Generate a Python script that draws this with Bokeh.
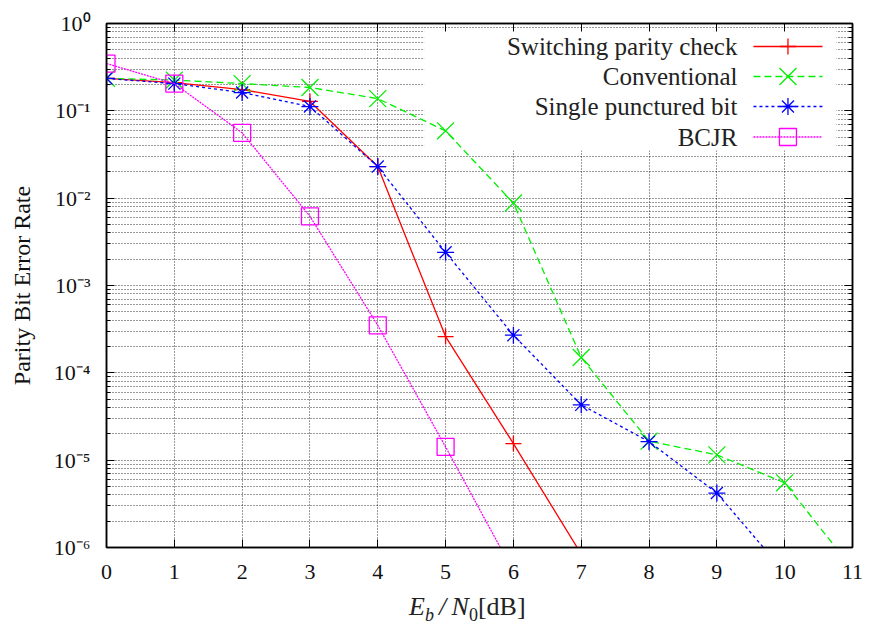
from bokeh.plotting import figure
from bokeh.layouts import column
from bokeh.models import (LinearAxis, LogAxis, FixedTicker, BoxAnnotation, Label,
                          CustomJSTickFormatter, Div)
from bokeh.embed import file_html
from bokeh.resources import INLINE

# ---------------- data ----------------
x_ticks = [0, 1, 2, 3, 4, 5, 6, 7, 8, 9, 10, 11]
y_decades = [1e-6, 1e-5, 1e-4, 1e-3, 1e-2, 1e-1, 1.0]

switching_x = [0, 1, 2, 3, 4, 5, 6, 7]
switching_y = [0.235, 0.21, 0.175, 0.128, 0.023, 2.6e-4, 1.55e-5, 8.4e-7]

conventional_x = [0, 1, 2, 3, 4, 5, 6, 7, 8, 9, 10, 11]
conventional_y = [0.235, 0.225, 0.205, 0.185, 0.138, 0.059, 8.8e-3, 1.5e-4,
                  1.65e-5, 1.15e-5, 5.5e-6, 5.7e-7]

punctured_x = [0, 1, 2, 3, 4, 5, 6, 7, 8, 9, 10]
punctured_y = [0.235, 0.205, 0.162, 0.112, 0.023, 2.4e-3, 2.7e-4, 4.3e-5,
               1.63e-5, 4.2e-6, 5.2e-7]

bcjr_x = [0, 1, 2, 3, 4, 5, 6]
bcjr_y = [0.348, 0.205, 0.056, 6.2e-3, 3.5e-4, 1.42e-5, 5.3e-7]

series_names = ["Switching parity check", "Conventional",
                "Single punctured bit", "BCJR"]

FONT = "Liberation Serif"

# ---------------- layout constants (pixels) ----------------
W, H = 870, 628
XLABEL_H = 36                                  # strip below the figure for the x label
HF = H - XLABEL_H                              # figure height
FL, FR, FT, FB = 106.5, 852, 23, 547          # frame edges
X0, X1 = 0.0, 11.0
LOG0, LOG1 = -6.0, 0.0


def px_x(px):
    return X0 + (px - FL) / (FR - FL) * (X1 - X0)


def px_y(py):
    return 10 ** (LOG1 - (py - FT) / (FB - FT) * (LOG1 - LOG0))


# ---------------- figure ----------------
p = figure(width=W, height=HF, x_range=(X0, X1), y_range=(10 ** LOG0, 10 ** LOG1),
           y_axis_type="log", output_backend="svg", toolbar_location=None,
           min_border_left=106, min_border_right=W - FR, min_border_top=FT,
           min_border_bottom=HF - FB)
p.background_fill_color = "white"
p.border_fill_color = "white"
p.outline_line_color = "black"
p.outline_line_width = 1.5

minor_y = [m * d for d in y_decades[:-1] for m in range(2, 10)]
y_ticker = FixedTicker(ticks=y_decades, minor_ticks=minor_y)
x_ticker = FixedTicker(ticks=x_ticks, minor_ticks=[])

sup_js = """
const sup = {'0':'\u2070','1':'\u00b9','2':'\u00b2','3':'\u00b3','4':'\u2074',
             '5':'\u2075','6':'\u2076','7':'\u2077','8':'\u2078','9':'\u2079','-':'\u207b'};
const e = Math.round(Math.log10(tick));
return '10' + String(e).split('').map(c => sup[c]).join('');
"""

xa = p.xaxis[0]
xa.ticker = x_ticker
ya = p.yaxis[0]
ya.ticker = y_ticker
ya.formatter = CustomJSTickFormatter(code=sup_js)

for ax in (xa, ya):
    ax.major_label_text_font = FONT
    ax.major_label_text_font_size = "22px"
    ax.major_label_text_color = "#111111"
    ax.major_tick_in = 8
    ax.major_tick_out = 0
    ax.minor_tick_in = 4
    ax.minor_tick_out = 0
    ax.axis_line_color = "black"
    ax.axis_line_width = 1.5
    ax.major_tick_line_color = "black"
    ax.minor_tick_line_color = "black"
xa.major_label_standoff = 17
ya.major_label_standoff = 16

ya.axis_label = "Parity Bit Error Rate"
ya.axis_label_text_font = FONT
ya.axis_label_text_font_size = "24px"
ya.axis_label_text_font_style = "normal"
ya.axis_label_text_color = "#111111"
ya.axis_label_standoff = 16

# mirrored axes (ticks only, no labels)
blank = CustomJSTickFormatter(code="return '';")
top = LinearAxis(ticker=x_ticker, formatter=blank,
                 major_label_standoff=0, major_tick_in=8, major_tick_out=0,
                 minor_tick_in=0, minor_tick_out=0, axis_line_width=1.5)
p.add_layout(top, "above")
right = LogAxis(ticker=y_ticker, formatter=blank,
                major_label_standoff=0, major_tick_in=8, major_tick_out=0,
                minor_tick_in=4, minor_tick_out=0, axis_line_width=1.5)
p.add_layout(right, "right")

# grid
p.xgrid.ticker = x_ticker
p.ygrid.ticker = y_ticker
for g in (p.xgrid[0], p.ygrid[0]):
    g.grid_line_color = "black"
    g.grid_line_alpha = 0.8
    g.grid_line_dash = "1 2"
    g.grid_line_width = 1
p.ygrid[0].minor_grid_line_color = "black"
p.ygrid[0].minor_grid_line_alpha = 0.8
p.ygrid[0].minor_grid_line_dash = "1 2"

# ---------------- key (gnuplot style: text right-aligned, sample on right) ----------
KEY_L, KEY_R, KEY_T, KEY_B = 424, 836, 29, 150
KEY_TEXT_R = 737
KEY_S0, KEY_S1 = 753, 822
KEY_ROWS = [46, 76, 106, 136.5]

key_bg = BoxAnnotation(left=px_x(KEY_L), right=px_x(KEY_R),
                       top=px_y(KEY_T), bottom=px_y(KEY_B),
                       fill_color="white", fill_alpha=1.0, line_color=None,
                       level="underlay")
p.add_layout(key_bg)

# ---------------- series ----------------
styles = [
    dict(color="#ff0000", dash="solid", marker="cross", size=16),
    dict(color="#00f000", dash="7 4", marker="x", size=24),
    dict(color="#0000ff", dash="3 3", marker="asterisk", size=17),
    dict(color="#ff00ff", dash="2 1", marker="square", size=17),
]
data = [(switching_x, switching_y), (conventional_x, conventional_y),
        (punctured_x, punctured_y), (bcjr_x, bcjr_y)]

for name, (xs, ys), st, row in zip(series_names, data, styles, KEY_ROWS):
    p.line(xs, ys, line_color=st["color"], line_width=1.3, line_dash=st["dash"])
    p.scatter(xs, ys, marker=st["marker"], size=st["size"],
              line_color=st["color"], fill_color=None, line_width=1.3)
    # key entry
    ky = px_y(row)
    p.line([px_x(KEY_S0), px_x(KEY_S1)], [ky, ky], line_color=st["color"],
           line_width=1.3, line_dash=st["dash"])
    p.scatter([px_x((KEY_S0 + KEY_S1) / 2)], [ky], marker=st["marker"],
              size=st["size"], line_color=st["color"], fill_color=None,
              line_width=1.3)
    p.add_layout(Label(x=px_x(KEY_TEXT_R), y=ky, text=name, text_align="right",
                       text_baseline="middle", text_font=FONT,
                       text_font_size="25px", text_color="#222222"))

# ---------------- x axis label  E_b / N_0 [dB] (HTML text strip) ----------------
xlabel = Div(
    text=("<span style=\"font-family:'Liberation Serif',serif;font-size:26px;"
          "color:#222222;white-space:nowrap;line-height:30px\">"
          "<i>E</i><sub style=\"font-size:18px\"><i>b</i></sub>"
          "&thinsp;<i>/</i>&thinsp;<i>N</i><sub style=\"font-size:18px\">0</sub>"
          "[dB]</span>"),
    width=300, height=XLABEL_H, margin=(0, 0, 0, 409))

layout = column(p, xlabel, spacing=0)
open("out.html", "w").write(file_html(layout, INLINE))
